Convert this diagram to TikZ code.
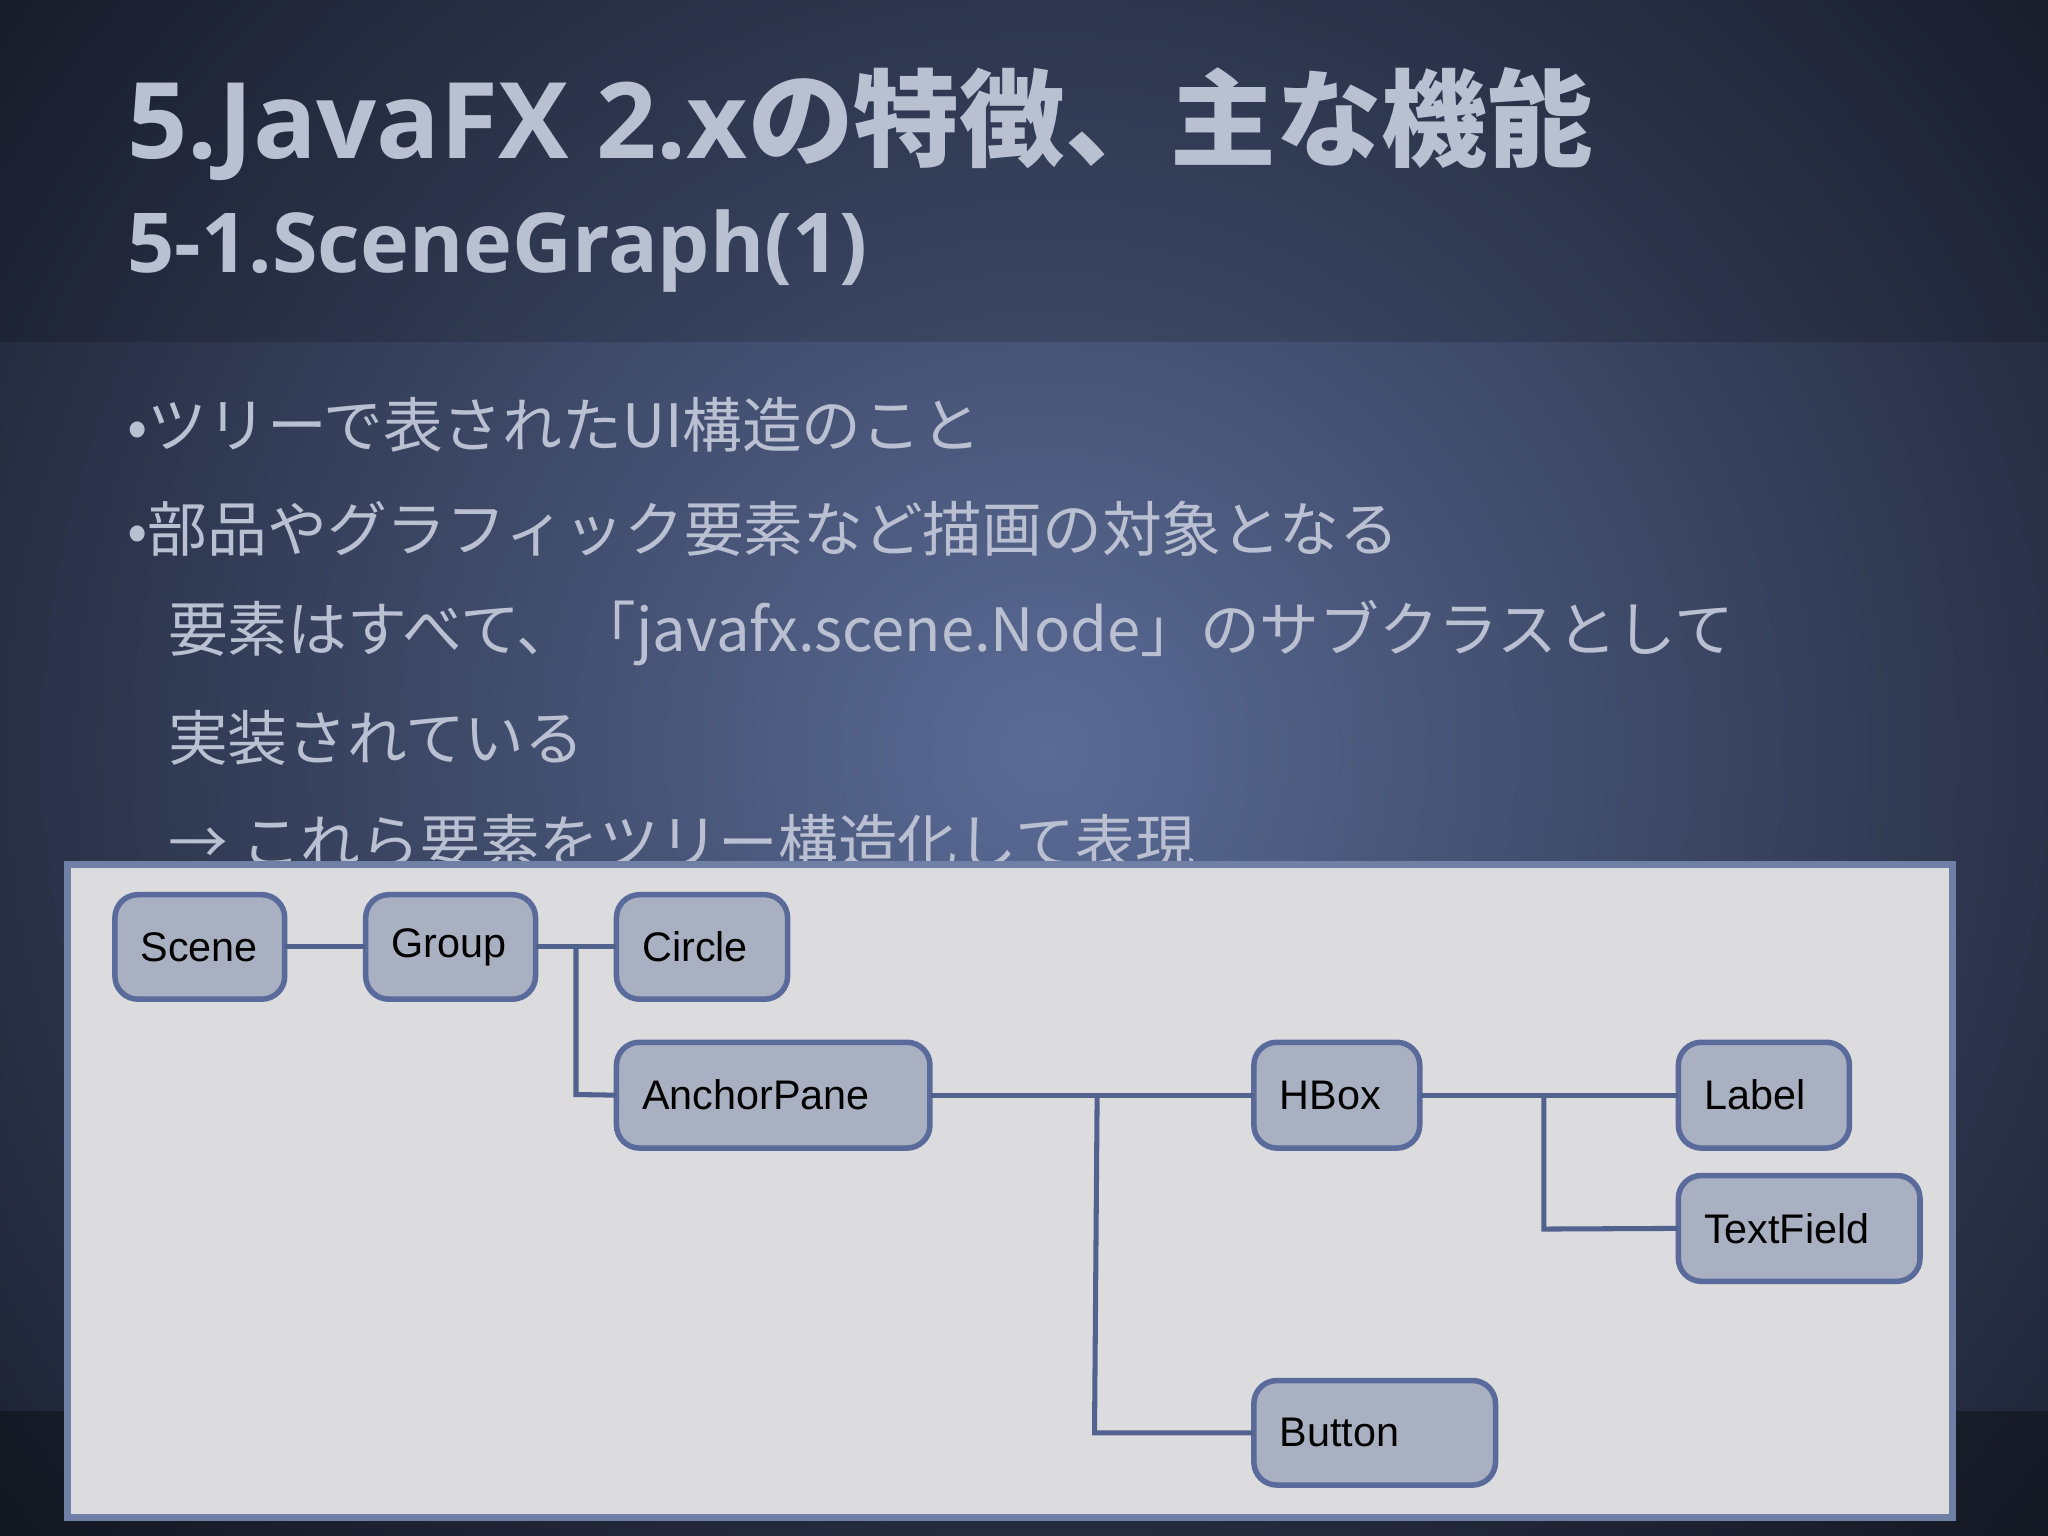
\documentclass[tikz,border=0pt]{standalone}
\usepackage{fontspec}
\setmainfont{Liberation Sans}
\newfontfamily\cjk{Noto Sans CJK JP}
\newfontfamily\ttl{Open Sans}
\usetikzlibrary{shadings}
\definecolor{bgout}{HTML}{151A27}
\definecolor{bgin}{HTML}{5B6B96}
\definecolor{ttext}{HTML}{B9C0D2}
\definecolor{panel}{HTML}{DCDCDF}
\definecolor{pborder}{HTML}{6F7FA6}
\definecolor{nfill}{HTML}{A9B0C2}
\definecolor{nborder}{HTML}{5A6A9A}
\definecolor{wire}{HTML}{52628E}
\tikzset{
  wire/.style={draw=wire,line width=1.1pt},
  btxt/.style={anchor=west,text=ttext,font=\cjk\fontsize{13}{15}\selectfont,inner sep=0pt}
}
\begin{document}
\begin{tikzpicture}[x=0.01cm,y=-0.01cm]
\useasboundingbox (0,0) rectangle (1568,1176);
\shade[inner color=bgin,outer color=bgout] (-300,-500) rectangle (1900,1650);
\fill[black,opacity=0.15] (0,0) rectangle (1568,262);
\fill[black,opacity=0.3] (0,1080) rectangle (1568,1176);
\node[anchor=west,text=ttext,inner sep=0pt,font=\ttl\bfseries\fontsize{23}{28}\selectfont] (title) at (97,95) {5.JavaFX 2.x{\cjk\bfseries の特徴、主な機能}};
\node[anchor=west,text=ttext,inner sep=0pt,font=\ttl\bfseries\fontsize{18}{22}\selectfont] (sub) at (97,192) {5-1.SceneGraph(1)};
\node[btxt] (l1) at (97,325) {•ツリーで表されたUI構造のこと};
\node[btxt] (l2) at (97,405) {•部品やグラフィック要素など描画の対象となる};
\node[btxt] (l3) at (128,485) {要素はすべて、「javafx.scene.Node」のサブクラスとして};
\node[btxt] (l4) at (128,565) {実装されている};
\node[btxt] (l5) at (128,645) {→ これら要素をツリー構造化して表現};
\fill[panel] (52,662) rectangle (1495,1162);
\draw[pborder,line width=1.5pt] (52,662) rectangle (1495,1162);
\newcommand\bx[6]{\draw[draw=nborder,line width=1.2pt,fill=nfill,rounded corners=5pt] (#2,#3) rectangle (#4,#5); \node[anchor=west,inner sep=0pt,font=\fontsize{9}{11}\selectfont] (#1) at (#2+19,{(#3+#5)/2}) {#6}; \coordinate (#1w) at (#2,{(#3+#5)/2}); \coordinate (#1e) at (#4,{(#3+#5)/2});}
\bx{scene}{88}{685}{218}{765}{Scene}
\bx{group}{280}{685}{410}{765}{Group}
\bx{circle}{472}{685}{603}{765}{Circle}
\bx{anchor}{472}{798}{712}{879}{AnchorPane}
\bx{hbox}{960}{798}{1087}{879}{HBox}
\bx{label}{1285}{798}{1416}{879}{Label}
\bx{tf}{1285}{900}{1470}{981}{TextField}
\bx{button}{960}{1057}{1145}{1137}{Button}
\draw[wire] (scenee) -- (groupw);
\draw[wire] (groupe) -- (circlew);
\draw[wire] (441,725) -- (441,838) -- (anchorw);
\draw[wire] (anchore) -- (hboxw);
\draw[wire] (840,838) -- (838,1097) -- (buttonw);
\draw[wire] (hboxe) -- (labelw);
\draw[wire] (1182,838) -- (1182,941) -- (tfw);
\end{tikzpicture}
\end{document}
